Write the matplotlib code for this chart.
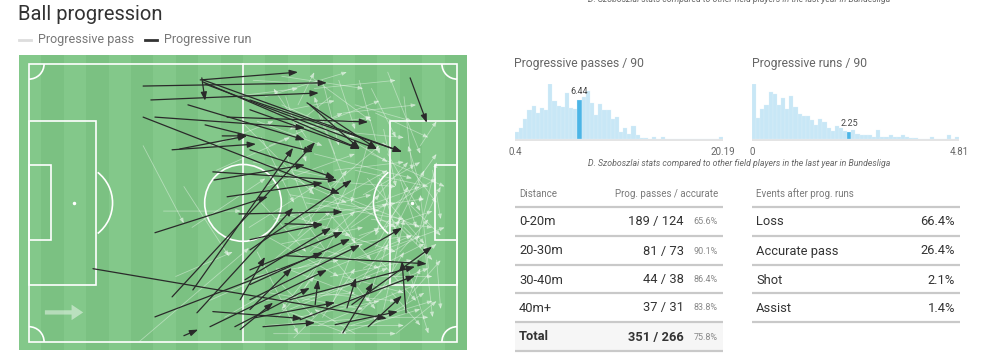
import matplotlib
matplotlib.use("Agg")
import matplotlib.pyplot as plt
from matplotlib.patches import Rectangle, Arc, Circle, FancyArrow
from matplotlib.lines import Line2D
import numpy as np

plt.rcParams['font.family'] = ['Roboto', 'DejaVu Sans']

# ---- data -------------------------------------------------------------
# progressive passes on a 105 x 68 pitch (x1, y1, x2, y2), y measured from top
passes = [
    (28, 20, 38, 39), (33, 36, 52, 36), (27, 68, 54, 45), (36, 52, 50, 46),
    (40, 40, 58, 28), (45, 20, 60, 14), (38, 30, 49, 47), (44, 58, 62, 50),
    (50, 8, 66, 6), (46, 26, 64, 18), (55, 4, 72, 5), (58, 8, 78, 2),
    (60, 12, 75, 9), (62, 3, 82, 6), (66, 10, 70, 2), (70, 6, 90, 4),
    (73, 14, 86, 9), (76, 4, 80, 16), (64, 16, 84, 13), (80, 10, 94, 14),
    (84, 6, 90, 18), (68, 18, 60, 6), (56, 14, 72, 20), (88, 2, 96, 22),
    (78, 18, 88, 24), (92, 8, 94, 26), (74, 8, 64, 16), (69, 3, 84, 14),
    (55, 24, 75, 28), (58, 30, 80, 22), (60, 38, 84, 32), (62, 44, 82, 40),
    (65, 28, 90, 30), (68, 34, 92, 38), (70, 22, 94, 28), (72, 40, 90, 46),
    (74, 30, 86, 20), (76, 36, 97, 33), (78, 44, 94, 42), (80, 26, 98, 30),
    (82, 32, 96, 24), (84, 38, 99, 40), (86, 28, 91, 44), (88, 22, 96, 36),
    (90, 34, 100, 28), (92, 40, 98, 46), (94, 26, 100, 34), (60, 48, 74, 36),
    (63, 22, 70, 40), (66, 42, 78, 26), (57, 34, 68, 46), (54, 40, 70, 30),
    (72, 26, 80, 44), (85, 45, 93, 30), (89, 30, 85, 42), (96, 30, 93, 20),
    (78, 30, 72, 42), (87, 40, 100, 22), (97, 38, 101, 30), (99, 26, 101, 38),
    (55, 52, 76, 48), (57, 58, 80, 56), (58, 64, 86, 62), (60, 66, 90, 66),
    (62, 54, 70, 62), (64, 60, 84, 52), (66, 50, 82, 44), (68, 64, 92, 64),
    (70, 56, 90, 58), (72, 62, 80, 50), (74, 52, 94, 48), (76, 66, 96, 60),
    (78, 58, 98, 50), (80, 62, 88, 54), (82, 50, 96, 42), (84, 64, 97, 56),
    (86, 56, 92, 46), (88, 62, 98, 62), (90, 52, 100, 44), (92, 60, 96, 50),
    (94, 56, 101, 48), (61, 62, 70, 52), (65, 67, 74, 58), (70, 50, 62, 60),
    (75, 48, 85, 60), (80, 66, 70, 60), (56, 46, 66, 66), (68, 44, 86, 50),
    (90, 66, 100, 58), (93, 50, 98, 66), (97, 44, 99, 62), (100, 48, 101, 60),
    (59, 20, 77, 12), (63, 8, 68, 24), (71, 12, 78, 30), (75, 22, 70, 8),
    (79, 40, 88, 34), (83, 20, 79, 34), (67, 56, 76, 40), (73, 46, 66, 36),
    (86, 48, 95, 58), (81, 54, 91, 38), (48, 62, 86, 40), (52, 14, 70, 32),
    (62, 10, 80, 18), (65, 14, 88, 20), (70, 16, 92, 18), (72, 4, 76, 20),
    (77, 12, 95, 10), (81, 4, 86, 22), (85, 12, 98, 18), (87, 16, 90, 30),
    (60, 26, 78, 34), (64, 32, 86, 36), (67, 38, 88, 26), (71, 30, 96, 40),
    (73, 36, 84, 48), (75, 26, 92, 24), (79, 34, 90, 40), (81, 42, 99, 36),
    (83, 28, 97, 44), (85, 34, 96, 30), (87, 46, 97, 26), (89, 38, 99, 48),
    (91, 28, 95, 40), (93, 34, 101, 42), (95, 44, 100, 24), (61, 36, 79, 42),
    (64, 40, 90, 34), (69, 46, 80, 36), (76, 42, 86, 32), (82, 36, 93, 24),
    (63, 50, 84, 58), (67, 58, 88, 50), (71, 64, 95, 54), (73, 56, 97, 44),
    (77, 52, 92, 56), (79, 64, 99, 58), (83, 58, 88, 44), (85, 52, 99, 52),
    (87, 60, 92, 38), (89, 56, 96, 64), (91, 46, 98, 38), (59, 56, 82, 60),
    (62, 60, 78, 66), (66, 62, 86, 58), (69, 52, 94, 42), (74, 60, 80, 44),
    (58, 42, 76, 52), (57, 18, 65, 34), (96, 20, 100, 14), (98, 50, 96, 32),
    (80, 48, 102, 40), (84, 22, 102, 30),
]

# progressive runs (x1, y1, x2, y2)
runs = [
    (28.0, 5.4, 73.1, 4.6), (29.9, 8.8, 71.1, 7.1), (28.0, 13.0, 76.3, 31.8),
    (30.9, 13.0, 67.7, 15.6), (35.1, 21.0, 55.7, 19.6), (37.0, 20.8, 53.5, 17.6),
    (30.9, 41.3, 58.6, 32.5), (15.7, 50.1, 87.8, 62.3), (35.1, 57.0, 70.2, 19.1),
    (30.9, 61.9, 72.1, 46.2), (40.2, 55.3, 64.8, 20.5), (41.2, 60.9, 64.8, 35.2),
    (44.4, 64.3, 73.1, 50.4), (45.1, 60.6, 67.0, 62.3), (50.5, 64.3, 68.9, 54.8),
    (38.0, 66.5, 41.5, 65.0), (42.4, 3.4, 43.2, 9.0), (42.0, 3.9, 66.0, 2.0),
    (42.7, 3.9, 91.5, 21.5), (42.7, 4.4, 81.2, 20.8), (43.2, 4.9, 85.4, 20.8),
    (48.6, 13.0, 83.2, 14.2), (43.2, 14.9, 69.7, 21.5), (39.0, 10.0, 67.7, 18.6),
    (45.1, 26.4, 75.6, 28.4), (45.4, 28.4, 67.7, 24.7), (48.6, 32.5, 72.1, 29.1),
    (51.5, 36.7, 77.0, 36.2), (47.4, 17.6, 53.5, 17.6), (62.8, 39.1, 72.1, 39.4),
    (82.2, 45.5, 91.5, 40.1), (79.2, 58.9, 98.9, 44.7), (62.8, 46.9, 97.6, 48.9),
    (92.5, 60.9, 91.5, 48.2), (77.0, 65.8, 84.4, 53.5), (78.0, 59.7, 80.2, 52.3),
    (70.2, 58.9, 70.9, 52.8), (57.4, 64.3, 70.2, 63.3), (75.1, 63.8, 90.5, 60.6),
    (83.2, 64.3, 91.5, 56.7), (93.5, 3.4, 97.6, 14.4), (68.9, 10.0, 81.2, 20.8),
    (54.2, 8.8, 91.5, 21.5), (54.2, 45.5, 79.2, 28.4), (54.2, 50.4, 77.0, 41.1),
    (54.2, 54.0, 78.8, 42.8), (54.2, 57.7, 81.2, 44.3), (53.0, 52.8, 74.1, 40.1),
    (54.2, 43.0, 72.1, 39.1), (51.8, 65.0, 59.9, 58.4), (51.8, 57.7, 57.9, 47.2),
    (54.2, 60.1, 64.5, 49.9), (55.4, 62.1, 75.1, 58.4), (64.0, 57.7, 94.7, 49.6),
    (66.5, 62.6, 94.7, 51.8), (54.2, 11.2, 81.2, 20.8), (54.2, 21.0, 75.1, 27.9),
    (68.2, 9.5, 85.4, 20.8),
]

# league distributions (50 bins each)
pp_range = (0.4, 20.19)
pp_counts = [7, 11, 20, 29, 33, 26, 31, 29, 55, 38, 33, 32, 46, 31, 30, 39, 42,
             48, 36, 24, 35, 29, 29, 20, 22, 7, 11, 5, 13, 4, 1, 1, 0, 2, 0, 2,
             0, 0, 0, 0, 0, 0, 0, 0, 0, 0, 0, 0, 0, 2]
pp_player = 6.44

ri_range = (0, 4.81)
ri_counts = [55, 21, 30, 34, 47, 45, 34, 41, 30, 43, 32, 25, 23, 23, 19, 14, 20,
             17, 11, 8, 13, 11, 8, 7, 9, 5, 4, 4, 4, 2, 9, 2, 2, 4, 2, 2, 4, 2,
             1, 1, 0, 0, 0, 2, 0, 0, 0, 4, 0, 2]
ri_player = 2.25

distances = ['0-20m', '20-30m', '30-40m', '40m+']
prog_passes = [189, 81, 44, 37]
accurate = [124, 73, 38, 31]

events = ['Loss', 'Accurate pass', 'Shot', 'Assist']
event_pct = [66.4, 26.4, 2.1, 1.4]

subtitle = 'D. Szoboszlai stats compared to other field players in the last year in Bundesliga'

# ---- layout helpers (pixel based) -------------------------------------
W, H = 982, 363


def fx(x):
    return x / W


def fy(y):
    return 1 - y / H


def box(x0, y0, x1, y1):
    return [x0 / W, 1 - y1 / H, (x1 - x0) / W, (y1 - y0) / H]


def hline(fig, x0, x1, y, color='#c9c9c9', lw=1.6):
    fig.add_artist(Line2D([fx(x0), fx(x1)], [fy(y), fy(y)], transform=fig.transFigure,
                          color=color, lw=lw, solid_capstyle='butt'))


fig = plt.figure(figsize=(W / 100, H / 100), dpi=100)
fig.patch.set_facecolor('white')

# ---- header ------------------------------------------------------------
fig.text(fx(18), fy(14), 'Ball progression', fontsize=14.5, color='#333333', va='center')
fig.add_artist(Line2D([fx(19), fx(31)], [fy(40), fy(40)], transform=fig.transFigure,
                      color='#dddddd', lw=2))
fig.text(fx(38), fy(40), 'Progressive pass', fontsize=9, color='#777777', va='center')
fig.add_artist(Line2D([fx(145), fx(157)], [fy(40), fy(40)], transform=fig.transFigure,
                      color='#333333', lw=2))
fig.text(fx(164), fy(40), 'Progressive run', fontsize=9, color='#777777', va='center')

# ---- pitch -------------------------------------------------------------
ax = fig.add_axes(box(19, 55, 467, 350))
x_lo, x_hi, y_lo, y_hi = -2.45, 107.45, -2.2, 70.0
ax.set_xlim(x_lo, x_hi)
ax.set_ylim(y_hi, y_lo)
ax.axis('off')

n_stripes = 20
sw = (x_hi - x_lo) / n_stripes
for i in range(n_stripes):
    ax.add_patch(Rectangle((x_lo + i * sw, y_lo), sw, y_hi - y_lo, lw=0,
                           color='#83c88a' if i % 2 == 0 else '#7bc182', zorder=0))

lc = dict(fill=False, ec='white', lw=1.2, zorder=1)
ax.add_patch(Rectangle((0, 0), 105, 68, **lc))
ax.plot([52.5, 52.5], [0, 68], color='white', lw=1.2, zorder=1)
ax.add_patch(Circle((52.5, 34), 9.4, **lc))
for gx, sgn in [(0, 1), (105, -1)]:
    ax.add_patch(Rectangle((gx if sgn > 0 else gx - 16.5, 13.84), 16.5, 40.32, **lc))
    ax.add_patch(Rectangle((gx if sgn > 0 else gx - 5.5, 24.84), 5.5, 18.32, **lc))
    ax.plot(gx + sgn * 11, 34, 'o', color='white', ms=1.5, zorder=1)
ax.add_patch(Arc((11, 34), 19, 19, theta1=-52, theta2=52, ec='white', lw=1.2, zorder=1))
ax.add_patch(Arc((94, 34), 19, 19, theta1=128, theta2=232, ec='white', lw=1.2, zorder=1))
for (cx, cy, t1) in [(0, 0, 0), (105, 0, 90), (105, 68, 180), (0, 68, 270)]:
    ax.add_patch(Arc((cx, cy), 7.4, 7.4, theta1=t1, theta2=t1 + 90, ec='white', lw=1.2, zorder=1))

ax.add_patch(FancyArrow(3.9, 60.8, 9.4, 0, width=1.05, head_width=3.8, head_length=2.85,
                        length_includes_head=True, color='white', alpha=0.45, lw=0, zorder=1))

for x1, y1, x2, y2 in passes:
    ax.annotate('', xy=(x2, y2), xytext=(x1, y1), zorder=2,
                arrowprops=dict(arrowstyle='-|>,head_length=0.3,head_width=0.12',
                                color='white', alpha=0.4, lw=0.6, shrinkA=0, shrinkB=0))

for x1, y1, x2, y2 in runs:
    ax.annotate('', xy=(x2, y2), xytext=(x1, y1), zorder=3,
                arrowprops=dict(arrowstyle='-|>,head_length=0.5,head_width=0.18',
                                color='#2a2a2a', lw=0.9, shrinkA=0, shrinkB=0))

# ---- histograms --------------------------------------------------------
fig.text(fx(514), fy(63), 'Progressive passes / 90', fontsize=8.7, color='#666666', va='center')
fig.text(fx(752), fy(63), 'Progressive runs / 90', fontsize=8.7, color='#666666', va='center')


def draw_hist(rect, counts, rng, player):
    hax = fig.add_axes(rect)
    edges = np.linspace(rng[0], rng[1], len(counts) + 1)
    bw = edges[1] - edges[0]
    idx = min(int((player - rng[0]) / bw), len(counts) - 1)
    colors = ['#c8e7f6'] * len(counts)
    colors[idx] = '#4cb5e6'
    top = max(counts)
    hax.bar(edges[:-1], counts, width=bw, align='edge', color=colors,
            edgecolor='#e2f2fa', lw=0.2, zorder=2)
    hax.axhspan(-top * 2.2 / 55, 0, color='#e4e4e4', lw=0, zorder=1)
    hax.set_xlim(rng[0], rng[1])
    hax.set_ylim(-top * 2.2 / 55, top)
    hax.axis('off')
    hax.annotate(f'{player:.2f}', xy=(edges[idx] + bw / 2, counts[idx]), xytext=(0, 6),
                 textcoords='offset points', ha='center', va='center', fontsize=6.5,
                 color='#444444')
    lbl = lambda v: f'{v:g}'
    hax.text(rng[0], -0.2, lbl(rng[0]), transform=hax.get_xaxis_transform(),
             ha='center', va='center', fontsize=7, color='#666666')
    hax.text(rng[1], -0.2, lbl(rng[1]), transform=hax.get_xaxis_transform(),
             ha='center', va='center', fontsize=7, color='#666666')
    return hax


draw_hist(box(515, 84, 723, 141), pp_counts, pp_range, pp_player)
draw_hist(box(752, 84, 959, 141), ri_counts, ri_range, ri_player)

fig.text(fx(739), fy(163), subtitle, fontsize=6.3, style='italic', color='#666666',
         ha='center', va='center')
fig.text(fx(739), fy(-0.5), subtitle, fontsize=6.3, style='italic', color='#666666',
         ha='center', va='center')

# ---- tables ------------------------------------------------------------
row_y = [221.7, 251, 280, 308]
line_y = [207, 236, 264.5, 293, 321.5]

fig.add_artist(Rectangle((fx(515), fy(350.5)), (723 - 515) / W, (350.5 - 321.5) / H,
                         transform=fig.transFigure, color='#f6f6f6', lw=0, zorder=0))

fig.text(fx(519), fy(194), 'Distance', fontsize=7, color='#7a7a7a', va='center')
fig.text(fx(718), fy(194), 'Prog. passes / accurate', fontsize=7, color='#7a7a7a',
         va='center', ha='right')
for ly in line_y + [350.5]:
    hline(fig, 515, 723, ly)
for d, p, a, y in zip(distances, prog_passes, accurate, row_y):
    fig.text(fx(519), fy(y), d, fontsize=9.3, color='#333333', va='center')
    fig.text(fx(684), fy(y), f'{p} / {a}', fontsize=9.3, color='#333333', va='center', ha='right')
    fig.text(fx(718), fy(y), f'{a / p * 100:.1f}%', fontsize=6.5, color='#888888',
             va='center', ha='right')
tot_p, tot_a = sum(prog_passes), sum(accurate)
fig.text(fx(519), fy(337), 'Total', fontsize=9.3, color='#333333', va='center', weight='bold')
fig.text(fx(684), fy(337), f'{tot_p} / {tot_a}', fontsize=9.3, color='#333333', va='center',
         ha='right', weight='bold')
fig.text(fx(718), fy(337), f'{tot_a / tot_p * 100:.1f}%', fontsize=6.5, color='#888888',
         va='center', ha='right')

fig.text(fx(756), fy(194), 'Events after prog. runs', fontsize=7, color='#7a7a7a', va='center')
for ly in line_y:
    hline(fig, 752, 960, ly)
for e, v, y in zip(events, event_pct, row_y):
    fig.text(fx(756), fy(y), e, fontsize=9.3, color='#333333', va='center')
    fig.text(fx(955), fy(y), f'{v:.1f}%', fontsize=9.3, color='#333333', va='center', ha='right')

fig.savefig('out.png', dpi=100, facecolor='white')
